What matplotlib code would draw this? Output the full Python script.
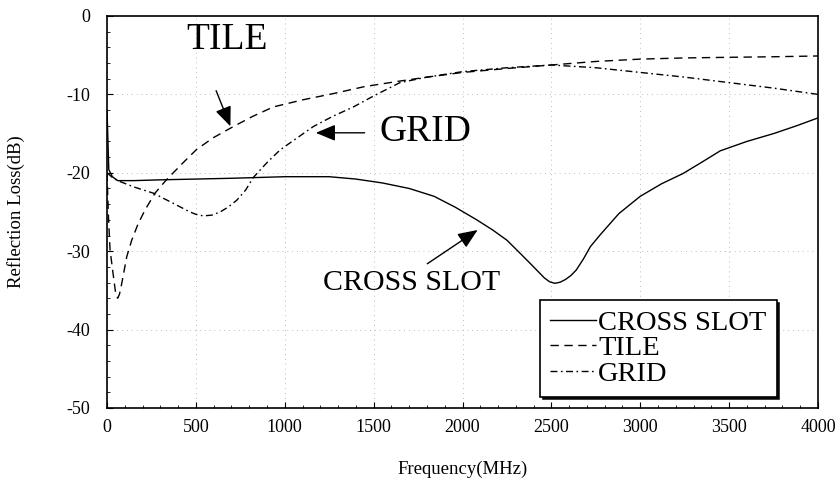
import numpy as np
import matplotlib.pyplot as plt
from matplotlib.ticker import MultipleLocator

# values
cross_f = [0, 10, 30, 60, 150, 300, 500, 700, 1000, 1250, 1400, 1550, 1700, 1840, 1960,
           2080, 2170, 2250, 2330, 2400, 2460, 2490, 2520, 2550, 2580, 2610, 2640, 2680,
           2720, 2775, 2880, 3000, 3120, 3240, 3350, 3450, 3600, 3750, 3880, 4000]
cross_db = [-12, -19.6, -20.5, -21, -21, -20.9, -20.8, -20.7, -20.5, -20.5, -20.8, -21.3,
            -22.0, -23.0, -24.4, -26.0, -27.3, -28.6, -30.4, -32.0, -33.4, -33.9, -34.1,
            -33.95, -33.6, -33.1, -32.4, -31.0, -29.4, -27.9, -25.2, -23.0, -21.4, -20.1,
            -18.6, -17.2, -16.0, -15.0, -14.0, -13.0]

tile_f = [0, 8, 17, 36, 50, 60, 70, 83, 111, 139, 175, 215, 270, 330, 420, 505, 600, 711,
          820, 936, 1100, 1273, 1450, 1648, 1800, 2000, 2250, 2500, 2750, 3000, 3250,
          3500, 3750, 4000]
tile_db = [-20, -25.6, -29.8, -33.2, -35.6, -36.0, -35.5, -34.1, -30.7, -28.6, -26.5,
           -24.7, -22.6, -21.0, -18.9, -17.0, -15.5, -14.1, -12.8, -11.6, -10.7, -9.9,
           -9.0, -8.3, -7.8, -7.2, -6.7, -6.25, -5.8, -5.5, -5.35, -5.27, -5.2, -5.1]

grid_f = [0, 30, 60, 150, 261, 373, 467, 500, 542, 590, 636, 680, 730, 780, 823, 900,
          973, 1010, 1161, 1270, 1386, 1500, 1648, 1800, 2000, 2250, 2500, 2750, 3000,
          3250, 3500, 3750, 4000]
grid_db = [-20, -20.6, -21, -21.8, -22.6, -23.9, -25.0, -25.3, -25.5, -25.4, -25.0, -24.4,
           -23.5, -22.2, -20.6, -18.7, -17.1, -16.5, -14.1, -12.8, -11.6, -10.2, -8.5,
           -7.8, -7.1, -6.6, -6.25, -6.6, -7.2, -7.8, -8.5, -9.2, -10.0]

xticks = [0, 500, 1000, 1500, 2000, 2500, 3000, 3500, 4000]
yticks = [0, -10, -20, -30, -40, -50]
ytick_labels = ['0', '-10', '-20', '-30', '-40', '-50']

plt.rcParams['font.family'] = ['Liberation Serif', 'DejaVu Serif']

fig = plt.figure(figsize=(8.4, 4.83), dpi=100)
ax = fig.add_axes([0.1274, 0.1553, 0.8464, 0.8116])

ax.plot(cross_f, cross_db, color='black', lw=1.0, label='CROSS SLOT')
ax.plot(tile_f, tile_db, color='black', lw=1.0, dashes=(6, 4), label='TILE')
ax.plot(grid_f, grid_db, color='black', lw=1.0, dashes=(5, 2.5, 1.2, 2.5), label='GRID')

ax.set_xlim(0, 4000)
ax.set_ylim(-50, 0)
ax.set_xticks(xticks)
ax.set_yticks(yticks)
ax.set_yticklabels(ytick_labels)
ax.xaxis.set_minor_locator(MultipleLocator(100))
ax.yaxis.set_minor_locator(MultipleLocator(2))
ax.tick_params(which='both', direction='in', labelsize=13)
ax.tick_params(which='major', length=4)
ax.tick_params(which='minor', length=2)
ax.tick_params(axis='x', pad=8)
ax.tick_params(axis='y', pad=12)
ax.grid(True, which='major', color='#bbbbbb', ls=(0, (1, 4)), lw=0.7)
for s in ax.spines.values():
    s.set_linewidth(1.2)

ax.set_xlabel('Frequency(MHz)', fontsize=13.5, labelpad=18)
ax.set_ylabel('Reflection Loss(dB)', fontsize=13.5, labelpad=30)

arrow = dict(arrowstyle='-|>,head_length=1.2,head_width=0.5', color='black', lw=1.0)
ax.text(675, -3.0, 'TILE', fontsize=27, ha='center', va='center')
ax.annotate('', xy=(700, -14.4), xytext=(608, -9.2), arrowprops=arrow)
ax.text(1790, -14.8, 'GRID', fontsize=27, ha='center', va='center')
ax.annotate('', xy=(1159, -14.9), xytext=(1465, -14.9), arrowprops=arrow)
ax.text(1716, -34.0, 'CROSS SLOT', fontsize=21.5, ha='center', va='center')
ax.annotate('', xy=(2098, -27.1), xytext=(1789, -31.8), arrowprops=arrow)

leg = ax.legend(loc='upper left', bbox_to_anchor=(0.609, 0.2755), fontsize=20.5,
                frameon=True, fancybox=False, handlelength=1.6,
                shadow={'color': 'black', 'alpha': 0.9},
                handletextpad=0.1, labelspacing=-0.02, borderpad=0.35, borderaxespad=0)
leg.get_frame().set_edgecolor('black')
leg.get_frame().set_linewidth(1.2)

fig.savefig('out.png', dpi=100)
